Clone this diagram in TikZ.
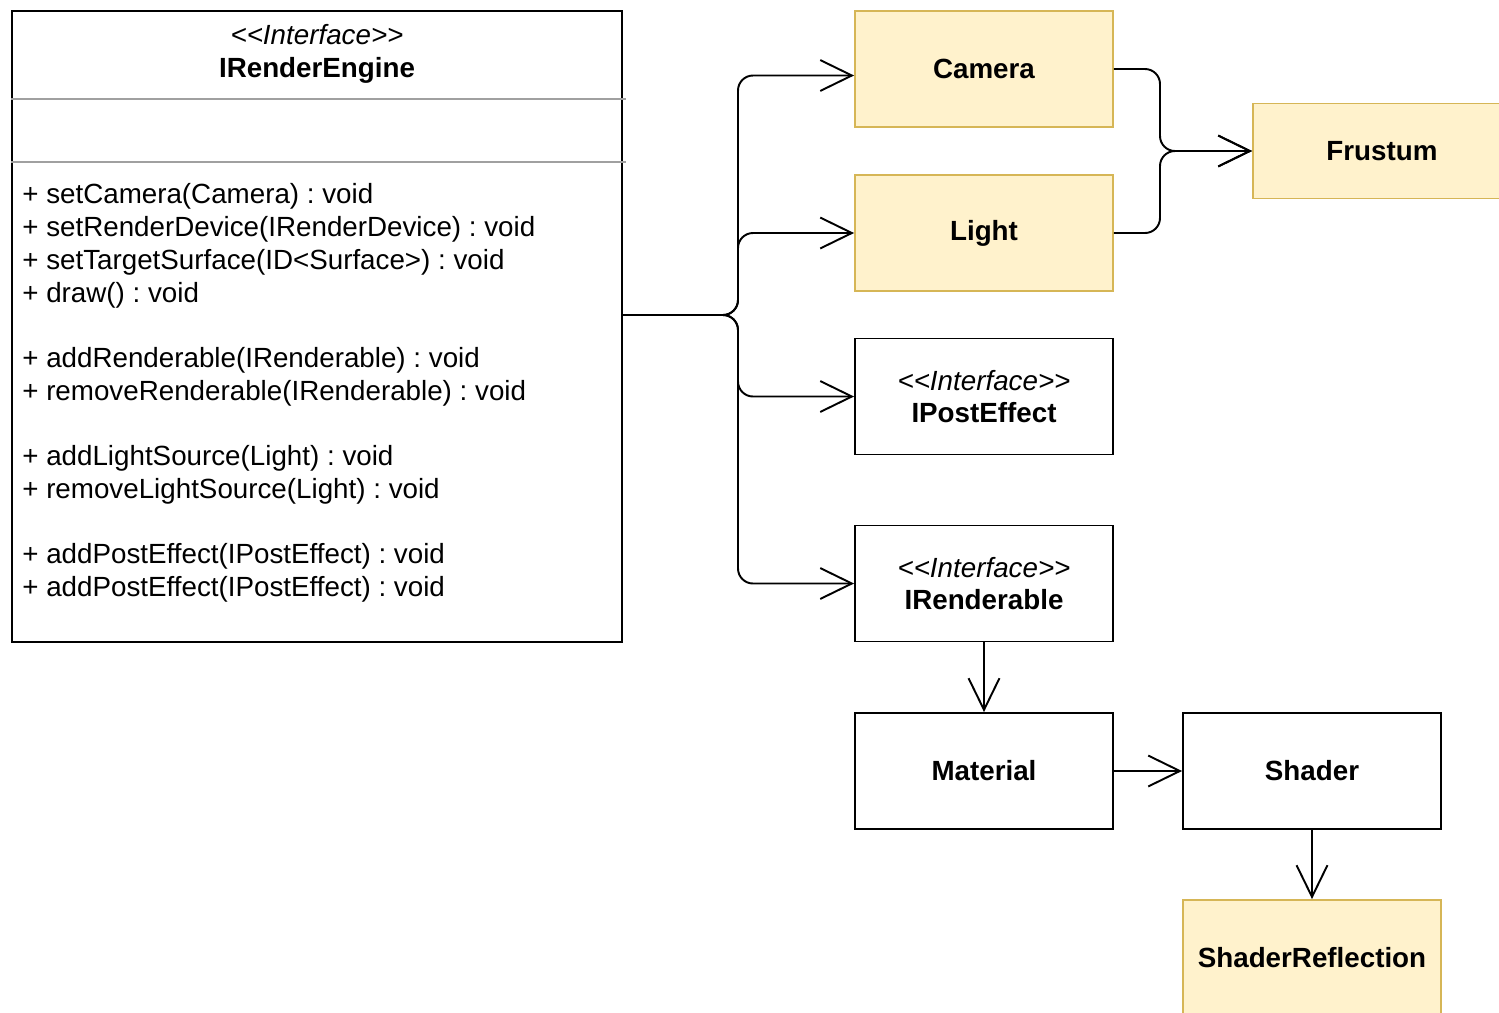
\documentclass[tikz,border=0pt]{standalone}
\usepackage{fontspec}
\setmainfont{Liberation Sans}
\usepackage{tikz}
\usetikzlibrary{arrows.meta, positioning, calc}

\definecolor{noteFill}{HTML}{FFF2CC}
\definecolor{noteLine}{HTML}{D6B656}
\definecolor{divGray}{HTML}{A0A0A0}

\newcommand{\stereo}{<\kern0pt<Interface>\kern0pt>}

\begin{document}
\frenchspacing
\begin{tikzpicture}[x=0.02cm, y=-0.02cm,
    txt/.style={font=\fontsize{15.8}{18.7}\selectfont, inner sep=0pt},
    classbox/.style={draw, line width=1.1pt, fill=white, minimum width=5.16cm, minimum height=2.32cm, inner sep=0pt, align=center, font=\fontsize{15.8}{18.7}\selectfont\bfseries},
    notebox/.style={classbox, draw=noteLine, fill=noteFill},
    divider/.style={draw=divGray, line width=1.1pt},
    link/.style={line width=1.1pt, rounded corners=0.3cm, -{Straight Barb[length=18pt, width=17.6pt, line width=1.1pt]}}
]

\useasboundingbox (0,0) rectangle (1499,1012);
\clip (0,0) rectangle (1499,1012);

% Render engine interface with methods
\node[draw, line width=1.1pt, minimum width=12.2cm, minimum height=12.62cm, inner sep=0pt] (eng) at (317,326.5) {};
\node[txt, align=center] (engHead) at (317,54) {\textit{\stereo}\\\textbf{IRenderEngine}};
\draw[divider] (eng.west |- 0,99) -- ([xshift=2pt]eng.east |- 0,99);
\draw[divider] (eng.west |- 0,162) -- ([xshift=2pt]eng.east |- 0,162);

\foreach \y/\txt in {199/{+ setCamera(Camera) : void},
                     232/{+ setRenderDevice(IRenderDevice) : void},
                     265/{+ setTargetSurface(ID<Surface>) : void},
                     298/{+ draw() : void},
                     363/{+ addRenderable(IRenderable) : void},
                     396/{+ removeRenderable(IRenderable) : void},
                     461/{+ addLightSource(Light) : void},
                     494/{+ removeLightSource(Light) : void},
                     559/{+ addPostEffect(IPostEffect) : void},
                     592/{+ addPostEffect(IPostEffect) : void}} {
    \node[txt, anchor=west, text height=0.75em, text depth=0.25em] (meth\y) at (22,\y) {\txt};
}

% Boxes on the right
\node[notebox] (cam) at (984,69) {Camera};
\node[notebox] (light) at (984,233) {Light};
\node[notebox, minimum height=1.9cm] (fru) at (1382,151) {Frustum};
\node[classbox] (post) at (984,396.5) {\textit{\mdseries\stereo}\\IPostEffect};
\node[classbox] (rend) at (984,583.5) {\textit{\mdseries\stereo}\\IRenderable};
\node[classbox] (mat) at (984,771) {Material};
\node[classbox] (shd) at (1312,771) {Shader};
\node[notebox] (refl) at (1312,958) {ShaderReflection};

% Connections
\coordinate (fork) at (738,315);
\coordinate (merge) at (1160,151);
\draw[link] (eng.east |- fork) -- (fork) |- ([yshift=-0.13cm]cam.west);
\draw[link] (eng.east |- fork) -- (fork) |- (light.west);
\draw[link] (eng.east |- fork) -- (fork) |- (post.west);
\draw[link] (eng.east |- fork) -- (fork) |- (rend.west);

\draw[link] (cam.east) -| (merge) -- (fru.west);
\draw[link] (light.east) -| (merge) -- (fru.west);

\draw[link] (rend.south) -- (mat.north);
\draw[link] (mat.east) -- (shd.west);
\draw[link] (shd.south) -- (refl.north);

\end{tikzpicture}
\end{document}
